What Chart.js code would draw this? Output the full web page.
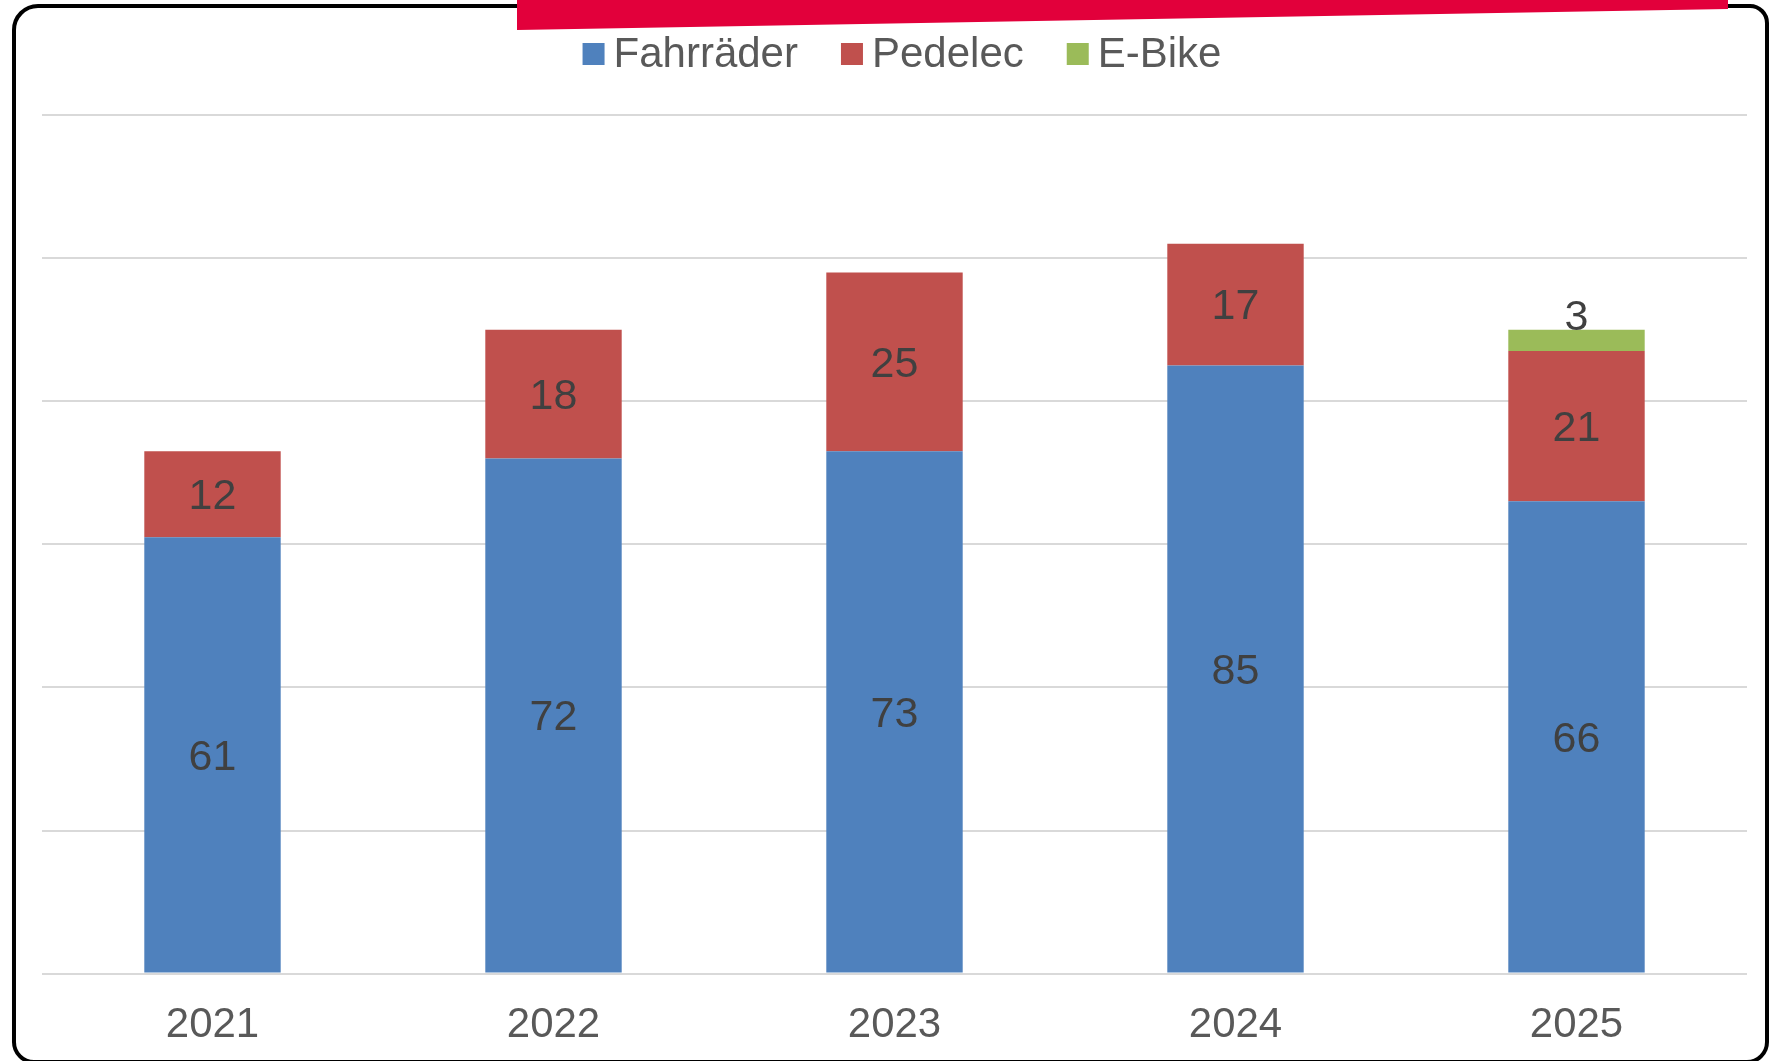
<!DOCTYPE html>
<html>
<head>
<meta charset="utf-8">
<script src="https://cdn.jsdelivr.net/npm/chart.js@4.4.1/dist/chart.umd.min.js"></script>
<style>
  html, body { margin: 0; padding: 0; background: #fff; }
</style>
</head>
<body>
<canvas id="myChart" width="1771" height="1061"></canvas>
<script>
const jahre = ["2021", "2022", "2023", "2024", "2025"];
const fahrraeder = [61, 72, 73, 85, 66];
const pedelec = [12, 18, 25, 17, 21];
const eBike = [null, null, null, null, 3];

const yMax = 120;
const yStep = 20;

const blau = "#4F81BD";
const rot = "#C0504D";
const gruen = "#9BBB59";

const schrift = "'Liberation Sans', Arial, sans-serif";

// Rahmen und roter Balken oben
const rahmen = {
    id: "rahmen",
    afterDraw(chart) {
        const ctx = chart.ctx;
        ctx.save();
        ctx.strokeStyle = "#000";
        ctx.lineWidth = 4;
        ctx.beginPath();
        ctx.roundRect(14, 6, 1753, 1056, [24, 17, 20, 20]);
        ctx.stroke();

        ctx.fillStyle = "#E2003B";
        ctx.beginPath();
        ctx.moveTo(517, 0);
        ctx.lineTo(1728, 0);
        ctx.lineTo(1728, 9);
        ctx.lineTo(517, 30);
        ctx.closePath();
        ctx.fill();
        ctx.restore();
    },
};

// Legende von Hand, damit die Abstände passen
const legende = {
    id: "legende",
    afterDraw(chart) {
        const ctx = chart.ctx;
        ctx.save();
        ctx.font = "42px " + schrift;
        ctx.textBaseline = "alphabetic";
        const items = chart.data.datasets.map((ds) => ({
            label: ds.label,
            color: ds.backgroundColor,
            w: ctx.measureText(ds.label).width,
        }));
        const box = 22;
        const gap = 9;
        const between = 43;
        let total = 0;
        items.forEach((it, i) => {
            total += box + gap + it.w + (i < items.length - 1 ? between : 0);
        });
        let x = 902 - total / 2;
        items.forEach((it) => {
            ctx.fillStyle = it.color;
            ctx.fillRect(x, 43, box, box);
            ctx.fillStyle = "#595959";
            ctx.fillText(it.label, x + box + gap, 67);
            x += box + gap + it.w + between;
        });
        ctx.restore();
    },
};

// Werte in die Balken schreiben
const balkenWerte = {
    id: "balkenWerte",
    afterDatasetsDraw(chart) {
        const ctx = chart.ctx;
        ctx.save();
        ctx.font = "43px " + schrift;
        ctx.fillStyle = "#404040";
        ctx.textAlign = "center";
        ctx.textBaseline = "middle";
        chart.data.datasets.forEach((ds, i) => {
            const meta = chart.getDatasetMeta(i);
            meta.data.forEach((bar, j) => {
                const wert = ds.data[j];
                if (wert === null || wert === undefined) return;
                const { x, y, base } = bar.getProps(["x", "y", "base"], true);
                let ty = (y + base) / 2 + 3;
                if (Math.abs(base - y) < 40) {
                    ty = y - 12;
                }
                ctx.fillText(String(wert), x, ty);
            });
        });
        ctx.restore();
    },
};

const ctx = document.getElementById("myChart");

new Chart(ctx, {
    type: "bar",
    data: {
        labels: jahre,
        datasets: [
            { label: "Fahrräder", data: fahrraeder, backgroundColor: blau },
            { label: "Pedelec", data: pedelec, backgroundColor: rot },
            { label: "E-Bike", data: eBike, backgroundColor: gruen },
        ],
    },
    options: {
        responsive: false,
        animation: false,
        devicePixelRatio: 1,
        layout: {
            padding: { top: 115, left: 42, right: 24, bottom: -17 },
        },
        datasets: {
            bar: {
                categoryPercentage: 1,
                barPercentage: 0.4,
                borderWidth: 0,
            },
        },
        scales: {
            x: {
                stacked: true,
                grid: { display: false, drawTicks: false },
                border: { display: false },
                ticks: {
                    color: "#595959",
                    font: { family: schrift, size: 42 },
                    padding: 27,
                },
            },
            y: {
                stacked: true,
                min: 0,
                max: yMax,
                ticks: { display: false, stepSize: yStep },
                grid: { color: "#D9D9D9", lineWidth: 2, drawTicks: false },
                border: { display: false },
            },
        },
        plugins: {
            legend: { display: false },
            tooltip: { enabled: false },
        },
    },
    plugins: [balkenWerte, legende, rahmen],
});
</script>
</body>
</html>
